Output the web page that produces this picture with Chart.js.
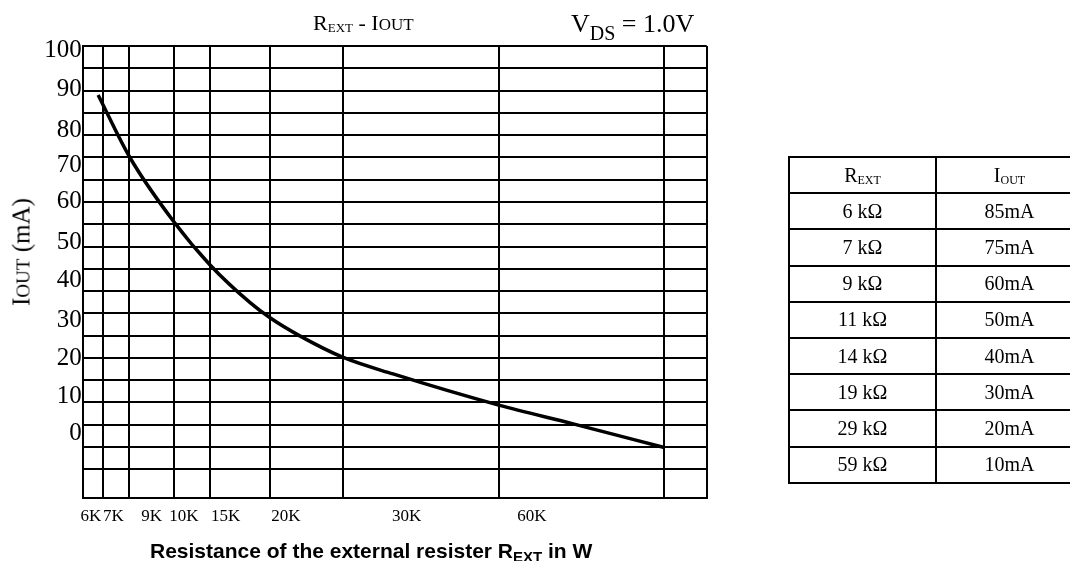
<!DOCTYPE html>
<html>
<head>
<meta charset="utf-8">
<script src="https://cdn.jsdelivr.net/npm/chart.js@4.4.0/dist/chart.umd.min.js"></script>
<style>
    html, body { margin: 0; padding: 0; background: #fff; }
    #wrap { position: relative; width: 1070px; height: 561px; overflow: hidden; color: #000; font-family: 'Liberation Serif', 'Times New Roman', serif; }
    #myChart { position: absolute; left: 0; top: 0; }
    .txt { position: absolute; white-space: nowrap; line-height: 1; }
    .low { position: relative; }
    #ytitle { transform: translate(-50%, -50%) rotate(-90deg); }
    #xtitle { font-family: 'Liberation Sans', Arial, sans-serif; font-weight: bold; }
    #tbl { position: absolute; left: 788px; top: 156px; width: 294px; border-collapse: collapse; table-layout: fixed; }
    #tbl td { border: 2px solid #000; width: 145px; height: 34.2px; padding: 0; text-align: center; font-size: 20px; }
</style>
</head>
<body>
<div id="wrap">
    <canvas id="myChart" width="1070" height="561"></canvas>
    <div class="txt" id="title" style="left:313px; top:12px; font-size:22px;">R<span class="low" style="font-size:13px; top:2px;">EXT</span> - I<span style="font-size:17px;">OUT</span></div>
    <div class="txt" id="vds" style="left:571px; top:11px; font-size:26px;">V<span class="low" style="font-size:20px; top:8px;">DS</span> = 1.0V</div>
    <div class="txt" id="ytitle" style="left:21px; top:252px; font-size:25px;">I<span style="font-size:19px;">OUT</span> (mA)</div>
    <div class="txt" id="xtitle" style="left:150px; top:540px; font-size:21px;">Resistance of the external resister R<span class="low" style="font-size:15px; top:4px;">EXT</span> in W</div>
    <table id="tbl"></table>
</div>
<script>
// datasheet table
const tableR = [6, 7, 9, 11, 14, 19, 29, 59];      // kΩ
const tableI = [85, 75, 60, 50, 40, 30, 20, 10];   // mA

// the curve as drawn
const curveR = [5.75, 7, 9, 11, 13, 14, 16, 19, 22.2, 29, 42.5, 59];
const curveI = [89, 75.2, 60.6, 50.8, 42.4, 39, 35, 30.1, 26.4, 19.4, 15.2, 9.9];

// vertical grid lines sit on these resistances (kΩ), plot edges included
const gridR = [5, 6, 7, 9, 11, 14, 19, 29, 59, 70];
const xTickLabels = ['6K', '7K', '9K', '10K', '15K', '20K', '30K', '60K'];
const yTickLabels = ['100', '90', '80', '70', '60', '50', '40', '30', '20', '10', '0'];

// the resistance axis isn't linear: where each grid line sits across the plot (0..1)
const gridAt = [0, 0.033, 0.0747, 0.1458, 0.2045, 0.3002, 0.4176, 0.6667, 0.932, 1];
// tick labels don't line up with the grid in the original
const xLabelAt = [0.0133, 0.049, 0.1106, 0.1623, 0.2292, 0.3255, 0.519, 0.72];
const yLabelAt = [0.9894, 0.9044, 0.8142, 0.7367, 0.6555, 0.565, 0.4823, 0.3938, 0.3091, 0.2241, 0.1431];

const yGrid = [];
for (let v = 5; v <= 100; v += 5) {
    yGrid.push(v);
}

function lerp(xs, ys, v) {
    let i = 1;
    while (i < xs.length - 1 && v > xs[i]) i++;
    return ys[i - 1] + (v - xs[i - 1]) * (ys[i] - ys[i - 1]) / (xs[i] - xs[i - 1]);
}

// linear scale that maps resistance through the grid knots
class KnotScale extends Chart.LinearScale {
    getPixelForValue(v) {
        if (v === null || v === undefined || isNaN(v)) return NaN;
        return this.getPixelForDecimal(lerp(gridR, gridAt, v));
    }
    getValueForPixel(p) {
        return lerp(gridAt, gridR, this.getDecimalForPixel(p));
    }
}
KnotScale.id = 'knot';
KnotScale.defaults = {};
Chart.register(KnotScale);

// table
const tbl = document.getElementById('tbl');
let html = '<tr><td>R<span class="low" style="font-size:12px; top:2px;">EXT</span></td>'
    + '<td>I<span class="low" style="font-size:12px; top:2px;">OUT</span></td></tr>';
for (let i = 0; i < tableR.length; i++) {
    html += '<tr><td>' + tableR[i] + ' k\u03A9</td><td>' + tableI[i] + 'mA</td></tr>';
}
tbl.innerHTML = html;

const points = curveR.map((r, i) => ({ x: r, y: curveI[i] }));

const serif = 'Liberation Serif';

var ctx = document.getElementById('myChart').getContext('2d');
var myChart = new Chart(ctx, { //eslint-disable-line
    type: 'line',
    data: {
        datasets: [{
            label: 'IOUT',
            data: points,
            xAxisID: 'x',
            yAxisID: 'y',
            borderColor: '#000',
            borderWidth: 3.5,
            pointRadius: 0,
            fill: false,
            cubicInterpolationMode: 'monotone'
        }]
    },
    options: {
        responsive: false,
        animation: false,
        devicePixelRatio: 1,
        layout: {
            padding: { left: 0, top: 46, right: 363.3, bottom: 0 }
        },
        plugins: {
            legend: { display: false },
            tooltip: { enabled: false }
        },
        scales: {
            x: {
                type: 'knot',
                position: 'bottom',
                weight: 0,
                min: gridR[0],
                max: gridR[gridR.length - 1],
                afterBuildTicks: axis => { axis.ticks = gridR.map(v => ({ value: v })); },
                ticks: { display: false },
                grid: { color: '#000', lineWidth: 2, drawTicks: false },
                border: { display: true, color: '#000', width: 2 },
                afterFit: axis => { axis.height = 0; }
            },
            xl: {
                type: 'linear',
                position: 'bottom',
                weight: 1,
                min: 0,
                max: 1,
                afterBuildTicks: axis => { axis.ticks = xLabelAt.map(v => ({ value: v })); },
                ticks: {
                    padding: 8,
                    color: '#000',
                    maxRotation: 0,
                    autoSkip: false,
                    font: { family: serif, size: 17 },
                    callback: (v, i) => xTickLabels[i]
                },
                grid: { display: false, drawTicks: false },
                border: { display: false },
                afterFit: axis => { axis.height = 63; }
            },
            y: {
                type: 'linear',
                position: 'left',
                weight: 0,
                min: -1.44,
                max: 100,
                afterBuildTicks: axis => { axis.ticks = yGrid.map(v => ({ value: v })); },
                ticks: { display: false },
                grid: { color: '#000', lineWidth: 2, drawTicks: false },
                border: { display: true, color: '#000', width: 2 },
                afterFit: axis => { axis.width = 0; }
            },
            yl: {
                type: 'linear',
                position: 'left',
                weight: 1,
                min: 0,
                max: 1,
                afterBuildTicks: axis => { axis.ticks = yLabelAt.map(v => ({ value: v })); },
                ticks: {
                    padding: 1,
                    color: '#000',
                    autoSkip: false,
                    font: { family: serif, size: 25 },
                    callback: (v, i) => yTickLabels[i]
                },
                grid: { display: false, drawTicks: false },
                border: { display: false },
                afterFit: axis => { axis.width = 82.7; }
            }
        }
    }
});
</script>
</body>
</html>
